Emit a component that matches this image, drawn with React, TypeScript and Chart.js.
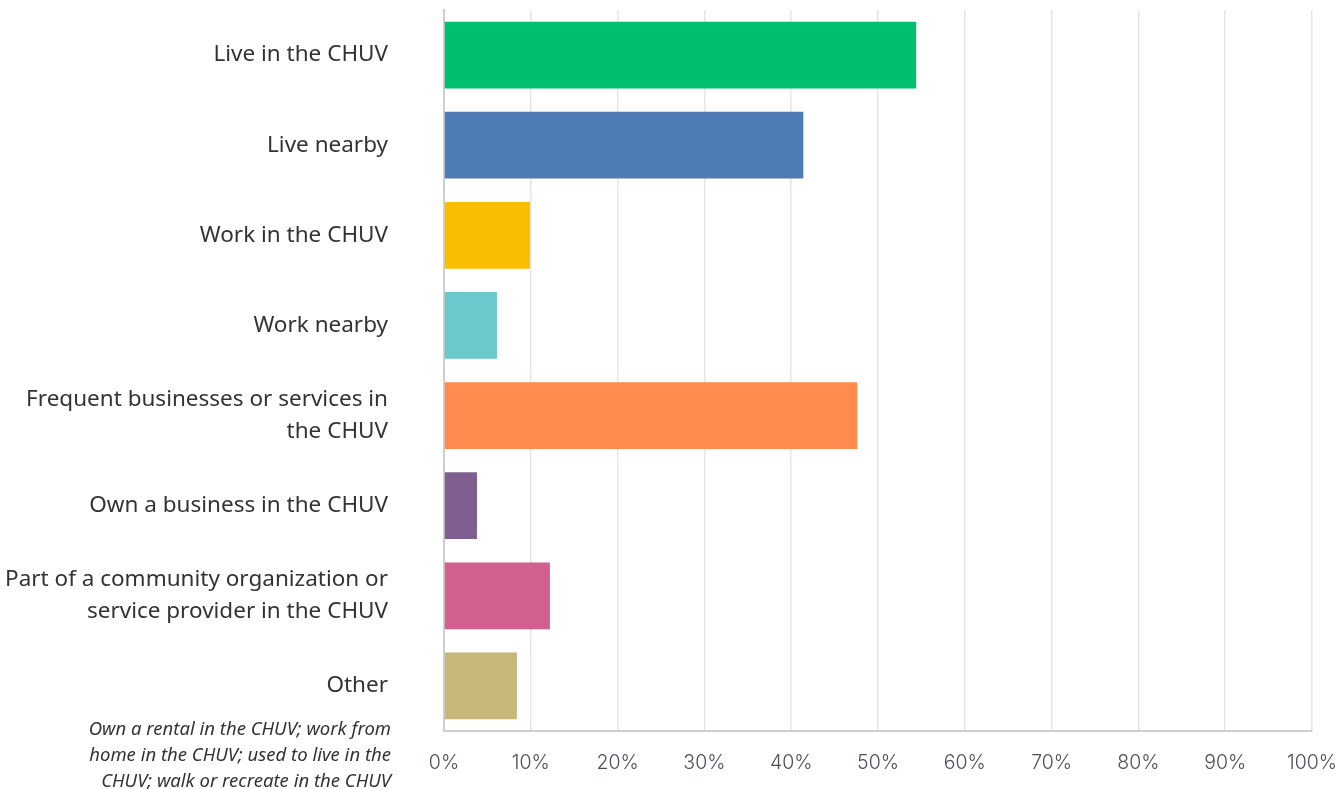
import React, { useEffect, useRef } from "react";
import { Chart, registerables } from "chart.js";

Chart.register(...registerables);

const categories: (string | string[])[] = [
  "Live in the CHUV",
  "Live nearby",
  "Work in the CHUV",
  "Work nearby",
  ["Frequent businesses or services in", "the CHUV"],
  "Own a business in the CHUV",
  ["Part of a community organization or", "service provider in the CHUV"],
  "Other",
];
const values = [54.4, 41.4, 9.9, 6.1, 47.6, 3.8, 12.2, 8.4];
const barColors = ["#00BF6F", "#507CB6", "#F9BE00", "#6BC8CD", "#FF8B4F", "#7F5F90", "#D25F90", "#C7B879"];
const otherNote = [
  "Own a rental in the CHUV; work from",
  "home in the CHUV; used to live in the",
  "CHUV; walk or recreate in the CHUV",
];

const notePlugin = {
  id: "otherNote",
  afterDraw(chart: any) {
    const ctx = chart.ctx;
    const y = chart.scales.y;
    const yc = y.getPixelForValue(7);
    ctx.save();
    ctx.font = "italic 18.5px 'Noto Sans'";
    ctx.fillStyle = "#333";
    ctx.textAlign = "right";
    ctx.textBaseline = "middle";
    otherNote.forEach((line, i) => {
      ctx.fillText(line, 391, yc + 44 + i * 26);
    });
    ctx.restore();
  },
};

export default function App() {
  const ref = useRef<HTMLCanvasElement>(null);
  useEffect(() => {
    document.body.style.margin = "0";
    const chart = new Chart(ref.current!, {
      type: "bar",
      data: {
        labels: categories,
        datasets: [
          {
            data: values,
            backgroundColor: barColors,
            borderColor: barColors,
            borderWidth: 0,
            barPercentage: 0.74,
            categoryPercentage: 1,
          },
        ],
      },
      options: {
        indexAxis: "y",
        animation: false,
        responsive: false,
        maintainAspectRatio: false,
        layout: { padding: { top: 10, right: 28, left: 0, bottom: 0 } },
        plugins: { legend: { display: false }, tooltip: { enabled: false } },
        scales: {
          x: {
            min: 0,
            max: 100,
            ticks: {
              stepSize: 10,
              callback: (v: any) => v + "%",
              font: { size: 19.5, family: "Inter", weight: "300" },
              color: "#4a4f5a",
              padding: 20,
            },
            grid: { color: "#e6e6e6", drawTicks: false, lineWidth: 1.5 },
            border: { color: "#cfcfcf", width: 2 },
            afterFit: (s: any) => {
              s.height = 58;
              s.paddingLeft = 0;
              s.paddingRight = 0;
            },
          },
          y: {
            ticks: {
              font: { size: 22.5, family: "Noto Sans", lineHeight: 1.42 },
              color: "#333",
              padding: 56,
              autoSkip: false,
            },
            grid: { display: false, drawTicks: false },
            border: { color: "#cfcfcf", width: 2 },
            afterFit: (s: any) => {
              s.width = 444;
              s.paddingTop = 0;
              s.paddingBottom = 0;
            },
          },
        },
      },
      plugins: [notePlugin],
    } as any);
    return () => chart.destroy();
  }, []);
  return (
    <div style={{ width: 1340, height: 789 }}>
      <canvas ref={ref} width={1340} height={789} style={{ display: "block" }} />
    </div>
  );
}
